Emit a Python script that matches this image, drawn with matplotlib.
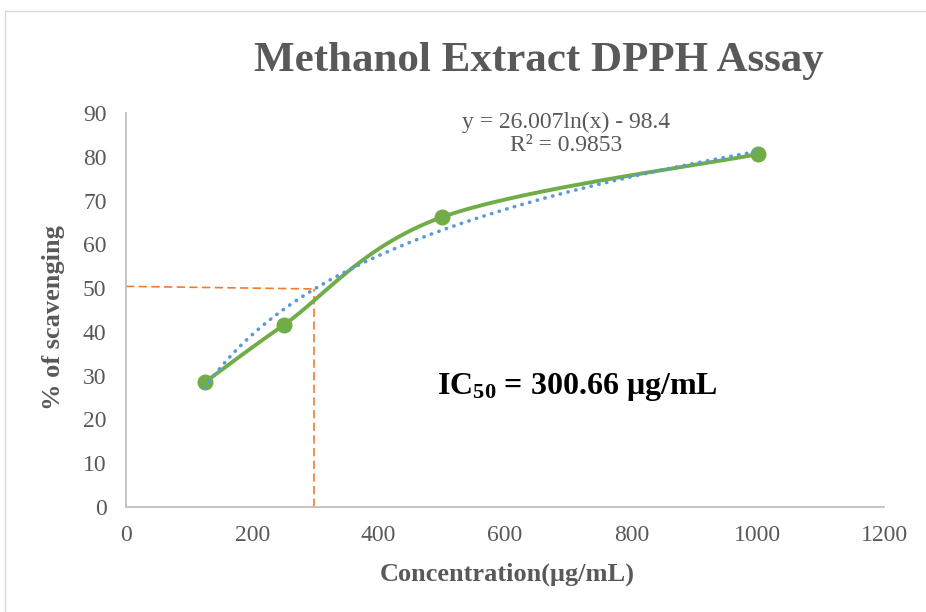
import numpy as np
import matplotlib
matplotlib.use("Agg")
import matplotlib.pyplot as plt
from matplotlib.patches import Rectangle

plt.rcParams['font.family'] = ['Liberation Serif', 'DejaVu Serif']
plt.rcParams['mathtext.fontset'] = 'custom'
plt.rcParams['mathtext.rm'] = 'Liberation Serif'
plt.rcParams['mathtext.bf'] = 'Liberation Serif:bold'

# measured scavenging activity
conc = [125, 250, 500, 1000]          # ug/mL
scav = [28.5, 41.6, 66.2, 80.6]       # %

# log fit from the worksheet
fit_a = 26.007
fit_b = -98.4
r2 = 0.9853
ic50 = 300.66

xticks = [0, 200, 400, 600, 800, 1000, 1200]
yticks = [0, 10, 20, 30, 40, 50, 60, 70, 80, 90]

GREEN = '#70AD47'
BLUE = '#5B9BD5'
ORANGE = '#ED7D31'
GREY = '#595959'


def smooth(xs, ys, sx, sy, n=60):
    # bezier through the points, control points catmull-rom style
    px = np.asarray(xs, float) * sx
    py = np.asarray(ys, float) * sy
    P = np.column_stack([px, py])
    P = np.vstack([P[0], P, P[-1]])
    out = []
    t = np.linspace(0, 1, n)[:, None]
    for i in range(1, len(P) - 2):
        p0, p1, p2, p3 = P[i - 1], P[i], P[i + 1], P[i + 2]
        c1 = p1 + (p2 - p0) / 6
        c2 = p2 - (p3 - p1) / 6
        seg = ((1 - t) ** 3) * p1 + 3 * ((1 - t) ** 2) * t * c1 + 3 * (1 - t) * t ** 2 * c2 + t ** 3 * p2
        out.append(seg)
    out = np.vstack(out)
    return out[:, 0] / sx, out[:, 1] / sy


fig = plt.figure(figsize=(9.26, 6.12), dpi=100)
fig.patches.append(Rectangle((5 / 926, -0.1), 1.2, 1 - 11 / 612 + 0.1, transform=fig.transFigure,
                             fill=False, edgecolor='#D9D9D9', lw=1.0))
ax = fig.add_axes([126 / 926, 1 - 507 / 612, 758 / 926, 394 / 612])

ax.set_xlim(0, 1200)
ax.set_ylim(0, 90)

# IC50 guide lines
ax.plot([0, ic50], [50.4, 49.8], color=ORANGE, lw=1.2, ls=(0, (5, 2.6)), zorder=1)
ax.plot([ic50 - 3, ic50 - 3], [0, 49.8], color=ORANGE, lw=1.2, ls=(0, (5, 2.6)), zorder=1)

# data line
cx, cy = smooth(conc, scav, 758 / 1200, 394 / 90)
ax.plot(cx, cy, color=GREEN, lw=2.8, solid_capstyle='round', zorder=3)
ax.plot(conc, scav, 'o', color=GREEN, ms=10.5, zorder=4)

# log trendline
tx = np.linspace(conc[0], conc[-1], 300)
ax.plot(tx, fit_a * np.log(tx) + fit_b, color=BLUE, lw=2.6,
        ls=(0, (0.1, 2.1)), dash_capstyle='round', zorder=5)

ax.text(696, 85.2, f'y = {fit_a}ln(x) - {abs(fit_b)}\nR² = {r2}', ha='center', va='center',
        fontsize=17, color=GREY, linespacing=1.12)
ax.text(715, 27.5, r'$\mathbf{IC_{50}}$ = ' + f'{ic50} μg/mL',
        ha='center', va='center', fontsize=23, fontweight='bold', color='black')

ax.set_xticks(xticks)
ax.set_yticks(yticks)
ax.tick_params(length=0, labelsize=17, labelcolor=GREY)
ax.tick_params(axis='y', pad=14)
ax.tick_params(axis='x', pad=13)
for s in ['top', 'right']:
    ax.spines[s].set_visible(False)
for s in ['left', 'bottom']:
    ax.spines[s].set_color('#BFBFBF')
    ax.spines[s].set_linewidth(1.3)

ax.set_xlabel('Concentration(μg/mL)', fontsize=19, fontweight='bold', color=GREY, va='center')
ax.xaxis.set_label_coords(0.5026, -0.170)
ax.set_ylabel('% of scavenging', fontsize=19, fontweight='bold', color=GREY, va='center')
ax.yaxis.set_label_coords(-0.096, 0.481)

fig.text(539 / 926, 1 - 61 / 612, 'Methanol Extract DPPH Assay', ha='center', va='center',
         fontsize=31, fontweight='bold', color=GREY)

fig.savefig('out.png', dpi=100)
